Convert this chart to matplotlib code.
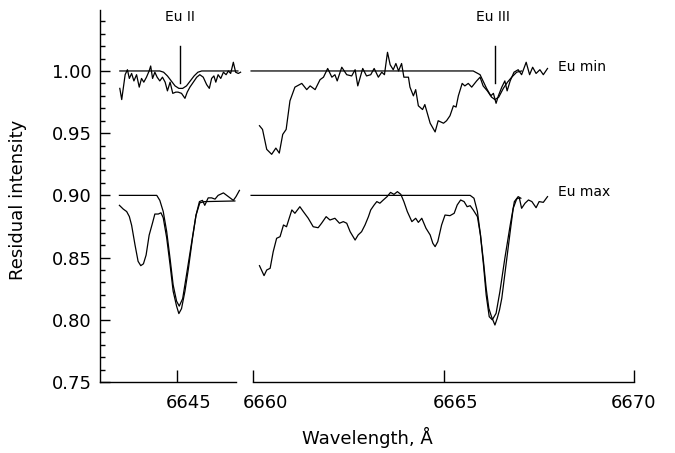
import matplotlib
matplotlib.use("Agg")
import matplotlib.pyplot as plt
from matplotlib.ticker import MultipleLocator, FixedLocator
from matplotlib.transforms import ScaledTranslation

# ---- Eu II region (left panel) ----
left_min_obs_wl = [6643.50, 6643.55, 6643.64, 6643.70, 6643.75, 6643.81, 6643.87, 6643.94,
                   6644.01, 6644.07, 6644.13, 6644.20, 6644.27, 6644.31, 6644.36, 6644.42,
                   6644.48, 6644.55, 6644.62, 6644.69, 6644.75, 6644.82, 6644.89, 6644.97,
                   6645.03, 6645.12, 6645.21, 6645.27, 6645.34, 6645.43, 6645.52, 6645.60,
                   6645.69, 6645.78, 6645.85, 6645.91, 6645.97, 6646.02, 6646.08, 6646.15,
                   6646.22, 6646.29, 6646.35, 6646.41, 6646.48, 6646.54, 6646.61, 6646.67]
left_min_obs = [0.986, 0.977, 0.997, 1.001, 0.994, 0.998, 0.992, 0.997,
                0.987, 0.994, 0.991, 0.995, 1.000, 1.004, 0.994, 0.999,
                0.995, 0.992, 0.995, 0.991, 0.984, 0.991, 0.982, 0.983,
                0.983, 0.982, 0.978, 0.983, 0.987, 0.991, 0.995, 0.997,
                0.995, 0.989, 0.986, 0.994, 0.996, 0.991, 0.997, 0.994,
                0.999, 0.997, 1.000, 0.998, 1.007, 0.999, 0.998, 0.999]
left_min_mod_wl = [6643.50, 6644.55, 6644.65, 6644.75, 6644.85, 6644.95, 6645.05, 6645.15,
                   6645.25, 6645.35, 6645.45, 6645.55, 6645.65, 6646.60]
left_min_mod = [1.000, 1.000, 0.999, 0.996, 0.992, 0.988, 0.986, 0.986,
                0.988, 0.992, 0.996, 0.999, 1.000, 1.000]

left_max_obs_wl = [6643.49, 6643.59, 6643.68, 6643.75, 6643.81, 6643.90, 6643.98, 6644.05,
                   6644.12, 6644.19, 6644.27, 6644.36, 6644.42, 6644.51, 6644.58, 6644.64,
                   6644.73, 6644.82, 6644.90, 6644.99, 6645.05, 6645.12, 6645.21, 6645.30,
                   6645.41, 6645.50, 6645.59, 6645.67, 6645.73, 6645.82, 6645.91, 6646.00,
                   6646.08, 6646.22, 6646.35, 6646.48, 6646.55, 6646.64]
left_max_obs = [0.892, 0.889, 0.887, 0.883, 0.876, 0.860, 0.847, 0.8435,
                0.845, 0.852, 0.868, 0.878, 0.885, 0.885, 0.886, 0.882,
                0.866, 0.844, 0.823, 0.811, 0.805, 0.809, 0.823, 0.841,
                0.866, 0.884, 0.895, 0.896, 0.892, 0.898, 0.898, 0.897,
                0.900, 0.902, 0.899, 0.896, 0.899, 0.904]
left_max_mod_wl = [6643.49, 6644.47, 6644.55, 6644.64, 6644.73, 6644.82, 6644.90, 6644.99,
                   6645.06, 6645.15, 6645.25, 6645.39, 6645.50, 6645.60, 6645.73, 6646.52]
left_max_mod = [0.900, 0.900, 0.896, 0.887, 0.871, 0.849, 0.828, 0.815,
                0.811, 0.817, 0.836, 0.863, 0.884, 0.894, 0.895, 0.8955]

# ---- Eu III region (right panel) ----
right_min_obs_wl = [6660.17, 6660.25, 6660.36, 6660.49, 6660.60, 6660.69, 6660.78, 6660.87,
                    6660.97, 6661.10, 6661.28, 6661.41, 6661.50, 6661.63, 6661.76, 6661.85,
                    6661.96, 6662.07, 6662.15, 6662.21, 6662.33, 6662.46, 6662.59, 6662.68,
                    6662.75, 6662.88, 6662.98, 6663.09, 6663.18, 6663.29, 6663.38, 6663.45,
                    6663.53, 6663.60, 6663.68, 6663.75, 6663.82, 6663.90, 6663.96, 6664.08,
                    6664.12, 6664.21, 6664.27, 6664.34, 6664.45, 6664.51, 6664.65, 6664.78,
                    6664.86, 6665.00, 6665.08, 6665.17, 6665.26, 6665.33, 6665.39, 6665.49,
                    6665.56, 6665.65, 6665.74, 6665.87, 6665.96, 6666.04, 6666.15, 6666.24,
                    6666.31, 6666.38, 6666.44, 6666.53, 6666.61, 6666.67, 6666.75, 6666.85,
                    6666.96, 6667.05, 6667.17, 6667.26, 6667.34, 6667.43, 6667.53, 6667.62,
                    6667.73]
right_min_obs = [0.956, 0.953, 0.937, 0.933, 0.938, 0.934, 0.949, 0.953,
                 0.976, 0.987, 0.990, 0.985, 0.988, 0.985, 0.993, 0.995,
                 1.002, 0.995, 0.997, 0.992, 1.003, 0.997, 0.996, 1.001,
                 0.988, 1.002, 0.996, 0.997, 1.002, 0.995, 0.999, 0.997,
                 1.015, 1.005, 1.001, 1.006, 1.000, 1.006, 0.995, 0.995,
                 0.987, 0.980, 0.985, 0.972, 0.969, 0.973, 0.958, 0.951,
                 0.960, 0.958, 0.960, 0.964, 0.972, 0.971, 0.980, 0.990,
                 0.988, 0.990, 0.987, 0.992, 0.995, 0.988, 0.984, 0.980,
                 0.982, 0.974, 0.980, 0.987, 0.992, 0.984, 0.992, 0.999,
                 1.001, 0.997, 1.007, 0.997, 1.003, 0.998, 1.001, 0.997,
                 1.002]
right_min_mod_wl = [6659.95, 6665.78, 6665.96, 6666.13, 6666.26, 6666.35, 6666.45, 6666.57,
                    6666.68, 6666.79, 6666.92, 6667.05]
right_min_mod = [1.000, 1.000, 0.997, 0.986, 0.979, 0.977, 0.979, 0.986,
                 0.991, 0.995, 0.999, 1.000]

right_max_obs_wl = [6660.17, 6660.29, 6660.36, 6660.45, 6660.53, 6660.62, 6660.71, 6660.80,
                    6660.88, 6660.95, 6661.02, 6661.10, 6661.23, 6661.32, 6661.45, 6661.58,
                    6661.71, 6661.80, 6661.92, 6662.02, 6662.15, 6662.27, 6662.37, 6662.46,
                    6662.55, 6662.68, 6662.76, 6662.85, 6662.94, 6663.03, 6663.09, 6663.18,
                    6663.25, 6663.33, 6663.42, 6663.52, 6663.61, 6663.70, 6663.79, 6663.88,
                    6663.96, 6664.05, 6664.17, 6664.27, 6664.34, 6664.43, 6664.54, 6664.65,
                    6664.72, 6664.78, 6664.85, 6664.95, 6665.04, 6665.17, 6665.28, 6665.36,
                    6665.45, 6665.54, 6665.62, 6665.70, 6665.78, 6665.89, 6665.97, 6666.05,
                    6666.12, 6666.19, 6666.26, 6666.35, 6666.41, 6666.47, 6666.53, 6666.64,
                    6666.75, 6666.83, 6666.92, 6666.99, 6667.05, 6667.14, 6667.23, 6667.32,
                    6667.43, 6667.51, 6667.62, 6667.73]
right_max_obs = [0.8435, 0.8355, 0.840, 0.8414, 0.8547, 0.8655, 0.8668, 0.8762,
                 0.8748, 0.8816, 0.8883, 0.8856, 0.8909, 0.887, 0.8816, 0.8748,
                 0.874, 0.8776, 0.8829, 0.8802, 0.8816, 0.8776, 0.8789, 0.8776,
                 0.8708, 0.8641, 0.8682, 0.8708, 0.8762, 0.8829, 0.8883, 0.8923,
                 0.895, 0.8937, 0.8963, 0.899, 0.9024, 0.9008, 0.903, 0.9008,
                 0.895, 0.887, 0.8789, 0.8816, 0.8783, 0.8816, 0.8736, 0.8682,
                 0.8615, 0.8588, 0.8628, 0.8762, 0.8842, 0.8837, 0.8856, 0.8923,
                 0.8963, 0.895, 0.8909, 0.8917, 0.8883, 0.8829, 0.8682, 0.8467,
                 0.8253, 0.8092, 0.8025, 0.7958, 0.8012, 0.8079, 0.8173, 0.844,
                 0.8708, 0.8896, 0.8971, 0.898, 0.8896, 0.8937, 0.8963, 0.895,
                 0.8901, 0.895, 0.8944, 0.899]
right_max_mod_wl = [6659.95, 6665.70, 6665.80, 6665.89, 6665.97, 6666.05, 6666.12, 6666.20,
                    6666.28, 6666.38, 6666.48, 6666.61, 6666.75, 6666.86, 6666.96, 6667.03]
right_max_mod = [0.900, 0.900, 0.8977, 0.887, 0.8682, 0.844, 0.820, 0.8025,
                 0.800, 0.8052, 0.8226, 0.8494, 0.876, 0.895, 0.899, 0.8977]

# line identifications
eu2_wl = 6645.08
eu3_wl = 6666.35

plt.rcParams["font.family"] = "DejaVu Sans"
fig = plt.figure(figsize=(6.75, 4.53), dpi=100)
ax1 = fig.add_axes([100 / 675, 71 / 453, 136 / 675, 372 / 453])
ax2 = fig.add_axes([253 / 675, 71 / 453, 381 / 675, 372 / 453])

lw = 0.9
ax1.plot(left_min_mod_wl, left_min_mod, color="black", lw=lw, clip_on=False)
ax1.plot(left_min_obs_wl, left_min_obs, color="black", lw=lw, clip_on=False)
ax1.plot(left_max_mod_wl, left_max_mod, color="black", lw=lw, clip_on=False)
ax1.plot(left_max_obs_wl, left_max_obs, color="black", lw=lw, clip_on=False)
ax2.plot(right_min_mod_wl, right_min_mod, color="black", lw=lw, clip_on=False)
ax2.plot(right_min_obs_wl, right_min_obs, color="black", lw=lw, clip_on=False)
ax2.plot(right_max_mod_wl, right_max_mod, color="black", lw=lw, clip_on=False)
ax2.plot(right_max_obs_wl, right_max_obs, color="black", lw=lw, clip_on=False)

ax1.plot([eu2_wl, eu2_wl], [0.990, 1.020], color="black", lw=1.0)
ax2.plot([eu3_wl, eu3_wl], [0.990, 1.020], color="black", lw=1.0)
ax1.text(eu2_wl, 1.0432, "Eu II", ha="center", va="center", fontsize=10)
ax2.text(6666.30, 1.0432, "Eu III", ha="center", va="center", fontsize=10)
ax2.text(6668.0, 1.0035, "Eu min", ha="left", va="center", fontsize=10, clip_on=False)
ax2.text(6668.0, 0.9025, "Eu max", ha="left", va="center", fontsize=10, clip_on=False)

for ax in (ax1, ax2):
    ax.set_ylim(0.75, 1.049)
    ax.spines["top"].set_visible(False)
    ax.spines["right"].set_visible(False)
    ax.spines["bottom"].set_linewidth(1.0)
    ax.tick_params(axis="x", direction="in", length=8.5, width=1.0,
                   labelsize=13, pad=9)

ax1.set_xlim(6642.98, 6646.55)
ax1.xaxis.set_major_locator(FixedLocator([6645]))
ax1.yaxis.set_major_locator(MultipleLocator(0.05))
ax1.yaxis.set_minor_locator(MultipleLocator(0.01))
ax1.yaxis.set_major_formatter(plt.FormatStrFormatter("%.2f"))
ax1.spines["left"].set_linewidth(1.0)
ax1.tick_params(axis="y", which="major", direction="in", length=7, width=1.0,
                labelsize=13, pad=6)
ax1.tick_params(axis="y", which="minor", direction="in", length=3.6, width=1.0)

ax2.set_xlim(6660, 6670)
ax2.xaxis.set_major_locator(FixedLocator([6660, 6665, 6670]))
ax2.spines["left"].set_visible(False)
ax2.set_yticks([])

# shift x tick labels as in the original plot
shift = ScaledTranslation(12 / 100, 0, fig.dpi_scale_trans)
for lab in ax1.get_xticklabels():
    lab.set_transform(lab.get_transform() + shift)
for lab in ax2.get_xticklabels()[:2]:
    lab.set_transform(lab.get_transform() + shift)

fig.text(367 / 675, 1 - 437 / 453, "Wavelength, \u00c5", ha="center", va="center", fontsize=13)
fig.text(18 / 675, 1 - 200 / 453, "Residual intensity", ha="center", va="center",
         rotation=90, fontsize=13)

fig.savefig("out.png", dpi=100)
